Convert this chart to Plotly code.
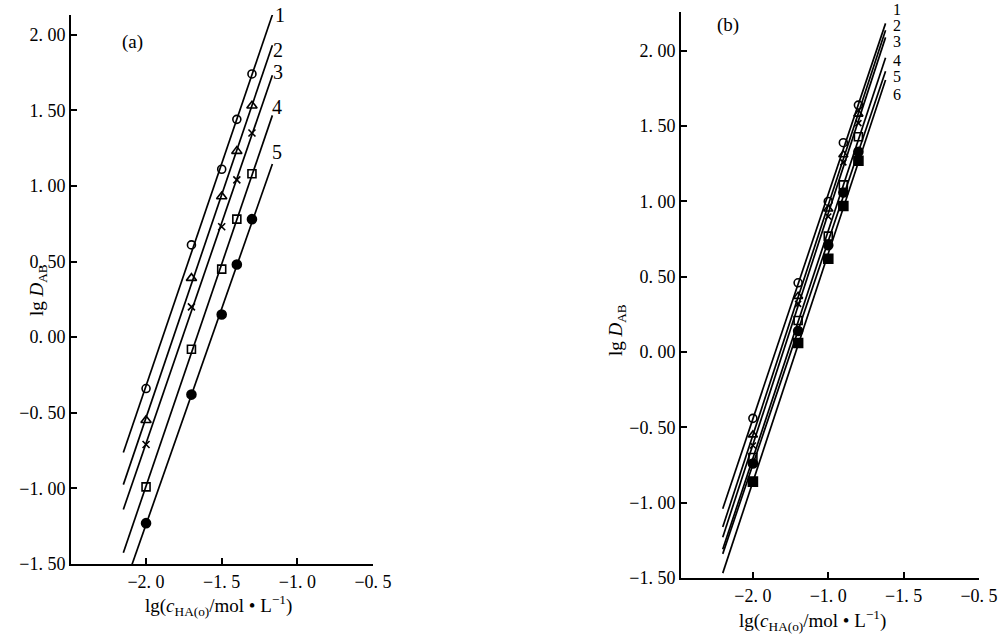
import numpy as np
import plotly.graph_objects as go

# ---------------- data ----------------
x_conc = [-2.0, -1.7, -1.5, -1.4, -1.3]

# panel (a)
a1 = [-0.34, 0.61, 1.11, 1.44, 1.74]
a2 = [-0.55, 0.39, 0.93, 1.23, 1.53]
a3 = [-0.71, 0.20, 0.73, 1.04, 1.35]
a4 = [-0.99, -0.08, 0.45, 0.78, 1.08]
a5 = [-1.23, -0.38, 0.15, 0.48, 0.78]
a_series = [a1, a2, a3, a4, a5]
a_names = ["1", "2", "3", "4", "5"]

# panel (b)
b1 = [-0.44, 0.46, 1.00, 1.39, 1.64]
b2 = [-0.55, 0.37, 0.95, 1.31, 1.58]
b3 = [-0.62, 0.32, 0.90, 1.26, 1.52]
b4 = [-0.70, 0.21, 0.77, 1.11, 1.43]
b5 = [-0.74, 0.14, 0.71, 1.06, 1.33]
b6 = [-0.86, 0.06, 0.62, 0.97, 1.27]
b_series = [b1, b2, b3, b4, b5, b6]
b_names = ["1", "2", "3", "4", "5", "6"]

# fitted-line extents (x)
a_line_x = [-2.15, -1.165]
b_line_x = [-2.2, -1.12]

y_ticks = [2.0, 1.5, 1.0, 0.5, 0.0, -0.5, -1.0, -1.5]
y_ticktext = ["2. 00", "1. 50", "1. 00", "0. 50", "0. 00", "−0. 50", "−1. 00", "−1. 50"]
x_ticks = [-2.0, -1.5, -1.0, -0.5]
a_x_ticktext = ["−2. 0", "−1. 5", "−1. 0", "−0. 5"]
b_x_ticktext = ["−2. 0", "−1. 0", "−1. 5", "−0. 5"]   # as printed

# ---------------- styling / layout positions (pixels) ----------------
FONT = "Liberation Serif, Times New Roman, serif"
W, H = 1003, 635
a_label_px = [(280, 15), (278, 50), (278, 72), (277, 107), (277, 152)]
b_label_px = [(897, 9), (897, 25), (897, 42), (897, 60), (897, 77), (897, 94)]

marker_a = [
    dict(symbol="circle-open", size=8),
    dict(symbol="triangle-up-open", size=9),
    dict(symbol="x-thin-open", size=7),
    dict(symbol="square-open", size=8),
    dict(symbol="circle", size=9),
]
marker_b = [
    dict(symbol="circle-open", size=8),
    dict(symbol="triangle-up-open", size=8),
    dict(symbol="x-thin-open", size=6),
    dict(symbol="square-open", size=8),
    dict(symbol="circle", size=9),
    dict(symbol="square", size=9),
]

fig = go.Figure()

def add_panel(series, markers, line_x, xa, ya):
    for ys, mk in zip(series, markers):
        k, c = np.polyfit(x_conc, ys, 1)
        lx = np.array(line_x)
        fig.add_trace(go.Scatter(x=lx, y=k * lx + c, mode="lines",
                                 line=dict(color="black", width=1.7),
                                 xaxis=xa, yaxis=ya, showlegend=False,
                                 hoverinfo="skip"))
        fig.add_trace(go.Scatter(x=x_conc, y=ys, mode="markers",
                                 marker=dict(color="black", line=dict(color="black", width=1.6), **mk),
                                 xaxis=xa, yaxis=ya, showlegend=False, cliponaxis=False))

add_panel(a_series, marker_a, a_line_x, "x", "y")
add_panel(b_series, marker_b, b_line_x, "x2", "y2")

def px_x(p):
    return p / W

def px_y(p):
    return 1 - p / H

axis_common = dict(showgrid=False, zeroline=False, showline=True, linecolor="black",
                   linewidth=2, ticks="inside", ticklen=6, tickwidth=1.5, tickcolor="black",
                   automargin=False,
                   tickfont=dict(family=FONT, size=18, color="black"))

fig.update_layout(
    width=W, height=H,
    margin=dict(l=0, r=0, t=0, b=0, pad=0),
    paper_bgcolor="white", plot_bgcolor="white",
    showlegend=False,
    xaxis=dict(domain=[px_x(71), px_x(373)], range=[-2.496, -0.5],
               tickvals=x_ticks, ticktext=a_x_ticktext, anchor="y", **axis_common),
    yaxis=dict(domain=[px_y(564), px_y(15)], range=[-1.5, 2.13],
               tickvals=y_ticks, ticktext=y_ticktext, anchor="x", **axis_common),
    xaxis2=dict(domain=[px_x(681), px_x(979)], range=[-2.477, -0.5],
                tickvals=x_ticks, ticktext=b_x_ticktext, anchor="y2", **axis_common),
    yaxis2=dict(domain=[px_y(578), px_y(12)], range=[-1.5, 2.258],
                tickvals=y_ticks, ticktext=y_ticktext, anchor="x2", **axis_common),
)

ann = []
for name, (px, py) in zip(a_names, a_label_px):
    ann.append(dict(x=px_x(px), y=px_y(py), xref="paper", yref="paper", text=name,
                    showarrow=False, xanchor="center", yanchor="middle",
                    font=dict(family=FONT, size=20, color="black")))
for name, (px, py) in zip(b_names, b_label_px):
    ann.append(dict(x=px_x(px), y=px_y(py), xref="paper", yref="paper", text=name,
                    showarrow=False, xanchor="center", yanchor="middle",
                    font=dict(family=FONT, size=16, color="black")))

ann.append(dict(x=px_x(132), y=px_y(42), xref="paper", yref="paper", text="(a)",
                showarrow=False, xanchor="center", yanchor="middle",
                font=dict(family=FONT, size=19, color="black")))
ann.append(dict(x=px_x(728), y=px_y(25), xref="paper", yref="paper", text="(b)",
                showarrow=False, xanchor="center", yanchor="middle",
                font=dict(family=FONT, size=19, color="black")))

ytitle = "lg <i>D</i><sub>AB</sub>"
ann.append(dict(x=px_x(38), y=px_y(290), xref="paper", yref="paper", text=ytitle,
                textangle=-90, showarrow=False, xanchor="center", yanchor="middle",
                font=dict(family=FONT, size=19, color="black")))
ann.append(dict(x=px_x(617), y=px_y(330), xref="paper", yref="paper", text=ytitle,
                textangle=-90, showarrow=False, xanchor="center", yanchor="middle",
                font=dict(family=FONT, size=19, color="black")))

xtitle = "lg(<i>c</i><sub>HA(o)</sub>/mol • L<sup>−1</sup>)"
ann.append(dict(x=px_x(218), y=px_y(605), xref="paper", yref="paper", text=xtitle,
                showarrow=False, xanchor="center", yanchor="middle",
                font=dict(family=FONT, size=19, color="black")))
ann.append(dict(x=px_x(812), y=px_y(620), xref="paper", yref="paper", text=xtitle,
                showarrow=False, xanchor="center", yanchor="middle",
                font=dict(family=FONT, size=19, color="black")))

fig.update_layout(annotations=ann)
fig.write_html("out.html")
